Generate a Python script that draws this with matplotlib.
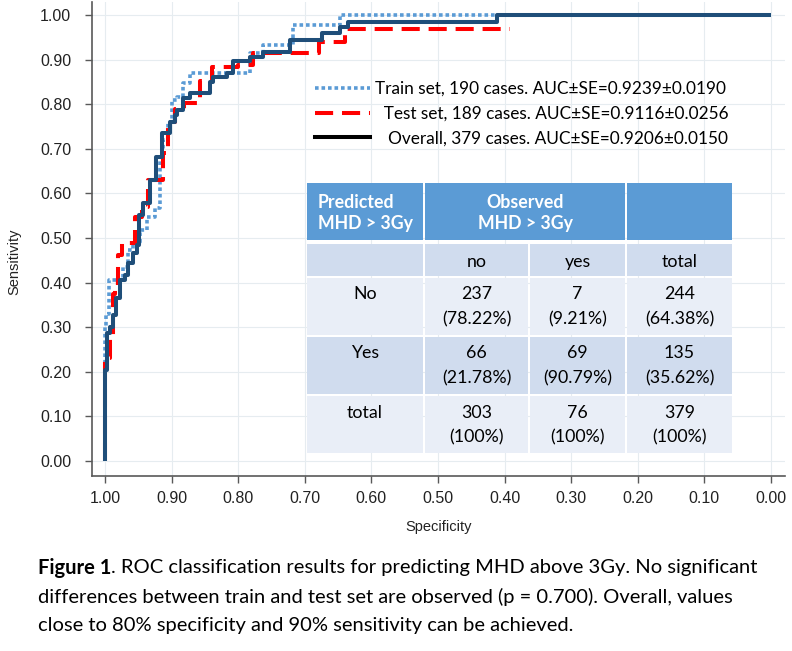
import matplotlib
matplotlib.use("Agg")
import matplotlib.pyplot as plt
from matplotlib.patches import Rectangle
from matplotlib.lines import Line2D
import numpy as np

# ---------------- data ----------------
# ROC step curves: (specificity at which sensitivity rises, sensitivity after rise)
train_spec = [1.000, 1.000, 0.998, 0.994, 0.973, 0.965, 0.958, 0.947, 0.937, 0.925, 0.917,
              0.913, 0.905, 0.900, 0.892, 0.883, 0.872, 0.782, 0.763, 0.718, 0.647, 0.000]
train_sens = [0.000, 0.300, 0.330, 0.405, 0.435, 0.473, 0.490, 0.517, 0.546, 0.567, 0.675,
              0.720, 0.760, 0.810, 0.816, 0.848, 0.869, 0.914, 0.932, 0.978, 1.000, 1.000]

test_spec = [1.000, 1.000, 0.9925, 0.988, 0.985, 0.980, 0.975, 0.955, 0.945, 0.935, 0.913,
             0.905, 0.895, 0.882, 0.857, 0.839, 0.800, 0.778, 0.679, 0.640, 0.392]
test_sens = [0.000, 0.230, 0.280, 0.375, 0.400, 0.462, 0.488, 0.546, 0.569, 0.630, 0.690,
             0.760, 0.790, 0.802, 0.853, 0.883, 0.888, 0.914, 0.940, 0.969, 0.969]

overall_spec = [1.000, 1.000, 0.9975, 0.9925, 0.988, 0.9835, 0.9775, 0.970, 0.966, 0.958, 0.952,
                0.949, 0.943, 0.9325, 0.923, 0.9145, 0.902, 0.895, 0.892, 0.883, 0.872, 0.842,
                0.838, 0.817, 0.808, 0.782, 0.763, 0.722, 0.674, 0.647, 0.635, 0.411, 0.000]
overall_sens = [0.000, 0.204, 0.287, 0.300, 0.327, 0.365, 0.405, 0.417, 0.443, 0.466, 0.484,
                0.551, 0.578, 0.630, 0.682, 0.735, 0.760, 0.776, 0.787, 0.814, 0.826, 0.849,
                0.860, 0.870, 0.896, 0.906, 0.916, 0.943, 0.960, 0.973, 0.984, 1.000, 1.000]

legend_labels = ["Train set, 190 cases. AUC\u00b1SE=0.9239\u00b10.0190",
                 "  Test set, 189 cases. AUC\u00b1SE=0.9116\u00b10.0256",
                 "   Overall, 379 cases. AUC\u00b1SE=0.9206\u00b10.0150"]

tick_values = [1.0, 0.9, 0.8, 0.7, 0.6, 0.5, 0.4, 0.3, 0.2, 0.1, 0.0]

table_header_left = "Predicted\nMHD > 3Gy"
table_header_mid = "Observed\nMHD > 3Gy"
col_labels = ["no", "yes", "total"]
row_labels = ["No", "Yes", "total"]
counts = [[237, 7, 244], [66, 69, 135], [303, 76, 379]]
pcts = [["78.22%", "9.21%", "64.38%"],
        ["21.78%", "90.79%", "35.62%"],
        ["100%", "100%", "100%"]]

caption_bold = "Figure 1"
caption_lines = [". ROC classification results for predicting MHD above 3Gy. No significant",
                 "differences between train and test set are observed (p = 0.700). Overall, values",
                 "close to 80% specificity and 90% sensitivity can be achieved."]

# ---------------- figure ----------------
W, H = 792, 651
fig = plt.figure(figsize=(W / 100, H / 100), dpi=100)
fig.patch.set_facecolor("white")

ax = fig.add_axes([92 / W, 1 - 476 / H, (785 - 92) / W, (476 - 2) / H])
ax.set_xlim(1.0195, -0.021)
ax.set_ylim(-0.0336, 1.029)

c_train = "#5B9BD5"
c_test = "#FF0000"
c_all = "#1F4E79"

ax.plot(train_spec, train_sens, drawstyle="steps-post", color=c_train, lw=2.6,
        linestyle=(0, (1.0, 0.8)), dash_capstyle="butt", zorder=3)
ax.plot(test_spec, test_sens, drawstyle="steps-post", color=c_test, lw=2.9,
        linestyle=(0, (4.5, 2.2)), dash_capstyle="butt", zorder=4)
ax.plot(overall_spec, overall_sens, drawstyle="steps-post", color=c_all, lw=2.9,
        solid_capstyle="butt", zorder=5)

ax.set_xticks(tick_values)
ax.set_xticklabels([f"{v:.2f}" for v in tick_values])
ax.set_yticks(tick_values)
ax.set_yticklabels([f"{v:.2f}" for v in tick_values])
for lab in ax.get_xticklabels() + ax.get_yticklabels():
    lab.set_fontfamily("Liberation Sans")
    lab.set_fontsize(11.5)
    lab.set_color("#222222")
ax.tick_params(axis="both", direction="out", length=5, width=1, color="#595959")
ax.tick_params(axis="y", pad=10)
ax.tick_params(axis="x", pad=6)
ax.grid(True, color="#E6ECF0", lw=0.8)
ax.set_axisbelow(True)
for s in ["top", "right"]:
    ax.spines[s].set_visible(False)
for s in ["left", "bottom"]:
    ax.spines[s].set_color("#595959")
    ax.spines[s].set_linewidth(1.2)

ax.set_xlabel("Specificity", fontfamily="Liberation Sans", fontsize=10.5, color="#222222")
ax.set_ylabel("Sensitivity", fontfamily="Liberation Sans", fontsize=10.5, color="#222222")
ax.xaxis.set_label_coords(0.5, -0.093)
ax.yaxis.set_label_coords(-0.1025, 0.451)

handles = [Line2D([], [], color=c_train, lw=2.6, linestyle=(0, (1.0, 0.8)), dash_capstyle="butt"),
           Line2D([], [], color=c_test, lw=2.9, linestyle=(0, (4.5, 2.2)), dash_capstyle="butt"),
           Line2D([], [], color="black", lw=2.9)]
leg = ax.legend(handles, legend_labels, loc="upper left",
                bbox_to_anchor=(315 / W, 1 - 81 / H), bbox_transform=fig.transFigure,
                frameon=False, handlelength=3.2, handletextpad=0.3, labelspacing=0.5,
                prop={"family": "Lato", "size": 12.4}, borderaxespad=0, borderpad=0)

# ---------------- table ----------------
def fx(px):
    return px / W

def fy(py):
    return 1 - py / H

def cell(x0, x1, y0, y1, color):
    fig.patches.append(Rectangle((fx(x0), fy(y1)), fx(x1) - fx(x0), fy(y0) - fy(y1),
                                 transform=fig.transFigure, facecolor=color,
                                 edgecolor="none", zorder=10))

hdr = "#5B9BD5"
band_dark = "#D0DCEE"
band_light = "#E9EEF7"
tfont = {"family": "Lato", "size": 12.8}

# header row
cell(307, 423, 183, 240, hdr)
cell(425, 625, 183, 240, hdr)
cell(627, 732, 183, 240, hdr)
fig.text(fx(318), fy(213), table_header_left, ha="left", va="center", color="white",
         fontweight="bold", linespacing=1.25, zorder=11, **tfont)
fig.text(fx(525), fy(213), table_header_mid, ha="center", va="center", color="white",
         fontweight="bold", linespacing=1.25, zorder=11, **tfont)

col_x = [(307, 423), (425, 528), (530, 625), (627, 732)]
# subheader row
for (x0, x1) in col_x:
    cell(x0, x1, 244, 276, band_dark)
for j, lab in enumerate(col_labels):
    x0, x1 = col_x[j + 1]
    fig.text(fx((x0 + x1) / 2), fy(262), lab, ha="center", va="center", color="black",
             zorder=11, **tfont)

row_y = [(278, 335), (337, 394), (396, 453)]
row_colors = [band_light, band_dark, band_light]
for i, lab in enumerate(row_labels):
    y0, y1 = row_y[i]
    yc = (y0 + y1) / 2
    for (x0, x1) in col_x:
        cell(x0, x1, y0, y1, row_colors[i])
    fig.text(fx((col_x[0][0] + col_x[0][1]) / 2), fy(yc - 12), lab, ha="center", va="center",
             color="black", zorder=11, **tfont)
    for j in range(3):
        x0, x1 = col_x[j + 1]
        xc = (x0 + x1) / 2
        fig.text(fx(xc), fy(yc - 12), str(counts[i][j]), ha="center", va="center",
                 color="black", zorder=11, **tfont)
        fig.text(fx(xc), fy(yc + 13), f"({pcts[i][j]})", ha="center", va="center",
                 color="black", zorder=11, **tfont)

# ---------------- caption ----------------
cfont = {"family": "Lato", "size": 14.5}
tb = fig.text(fx(38), fy(568), caption_bold, ha="left", va="center", fontweight="bold",
              color="black", **cfont)
fig.canvas.draw()
bb = tb.get_window_extent(renderer=fig.canvas.get_renderer())
fig.text(bb.x1 / W, fy(568), caption_lines[0], ha="left", va="center", color="black", **cfont)
fig.text(fx(38), fy(597), caption_lines[1], ha="left", va="center", color="black", **cfont)
fig.text(fx(38), fy(626), caption_lines[2], ha="left", va="center", color="black", **cfont)

fig.savefig("out.png", dpi=100, facecolor="white")
